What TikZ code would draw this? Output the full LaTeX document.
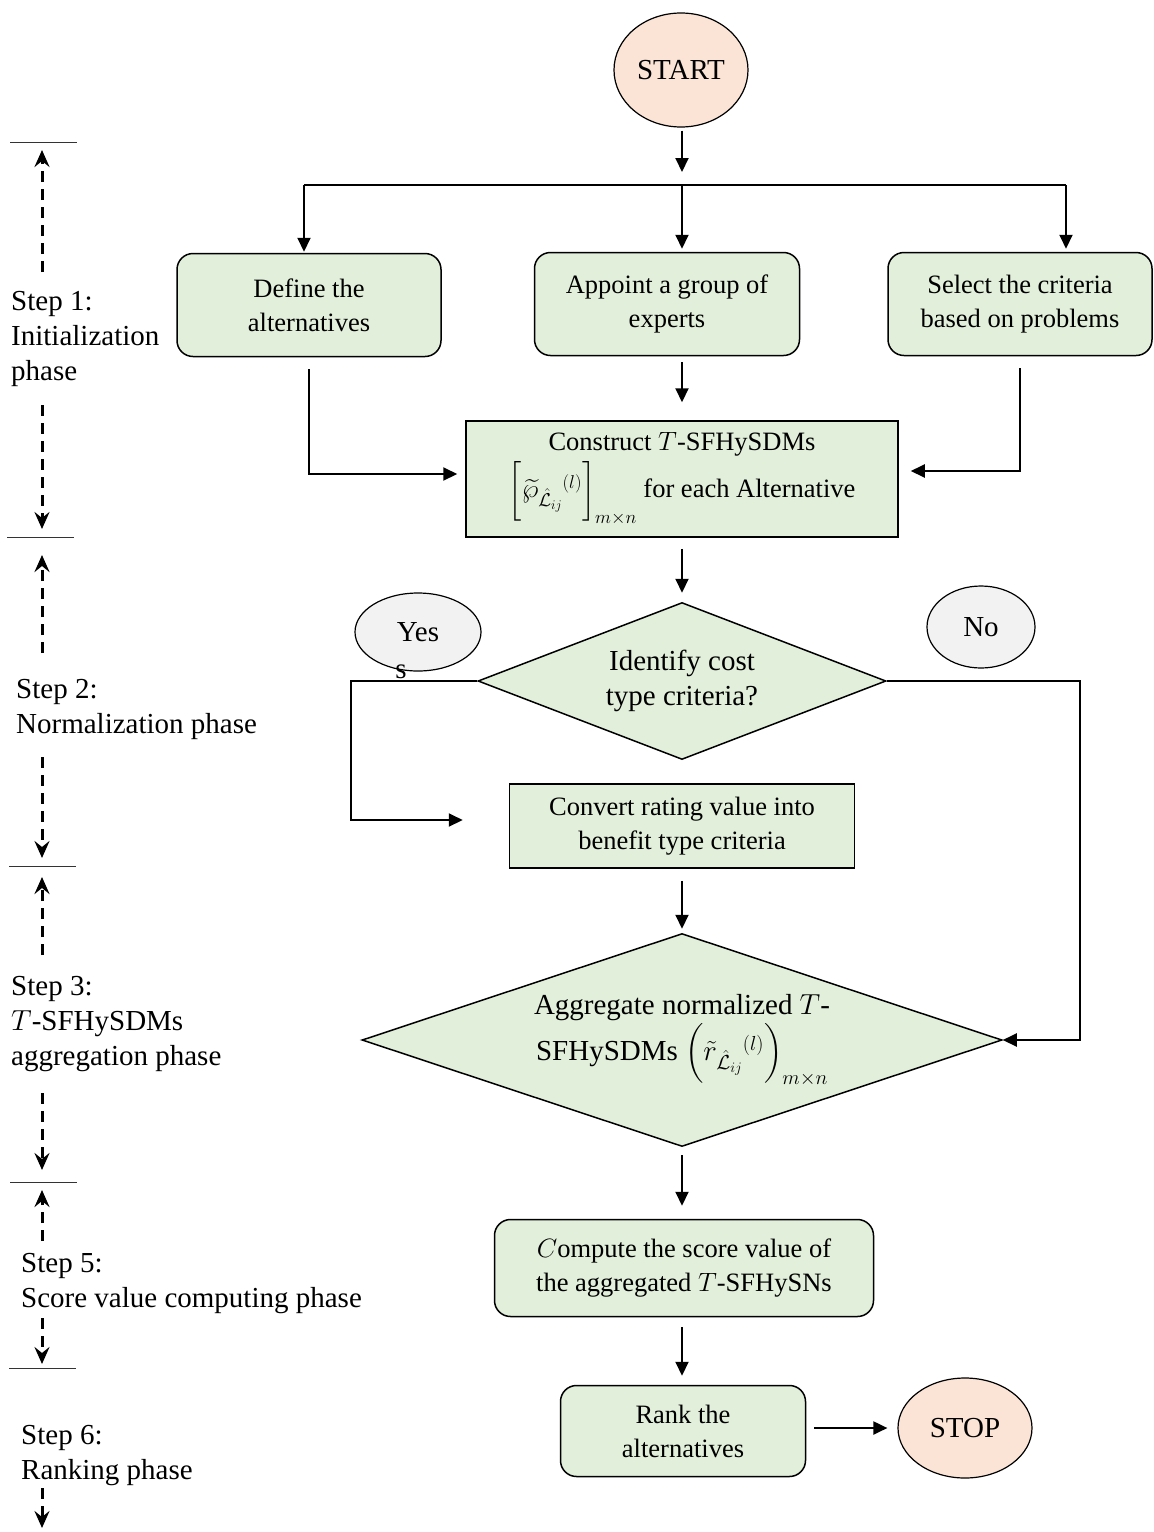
\documentclass[tikz,border=0pt]{standalone}
\usepackage{fix-cm}
\usepackage{amsmath}
\usepackage{fontspec}
\setmainfont{Liberation Serif}
\usetikzlibrary{shapes.geometric,arrows.meta}
\definecolor{boxgreen}{HTML}{E2EFDA}
\definecolor{termpink}{HTML}{FBE4D5}
\definecolor{ovalgrey}{HTML}{F2F2F2}
\tikzset{
  boxfont/.style={font=\fontsize{26.5}{34}\selectfont},
  bigfont/.style={font=\fontsize{29}{35}\selectfont},
  greenbox/.style={draw, line width=1.5pt, fill=boxgreen, align=center, boxfont, inner sep=0pt},
  rgreenbox/.style={greenbox, rounded corners=16pt},
  decision/.style={draw, line width=1.5pt, fill=boxgreen, diamond, align=center, bigfont, inner sep=0pt},
  terminal/.style={draw, line width=1.2pt, fill=termpink, ellipse, bigfont, inner sep=0pt},
  answer/.style={draw, line width=1.2pt, fill=ovalgrey, ellipse, bigfont, inner sep=0pt},
  conn/.style={line width=2pt, -{Triangle[length=14pt,width=13pt]}},
  plainline/.style={line width=2pt},
  phasearrow/.style={line width=3pt, dash pattern=on 11pt off 7pt, -{Stealth[length=17pt,width=15pt,inset=6pt]}},
  phaserule/.style={line width=1pt, black!80},
  phaselabel/.style={align=left, anchor=west, bigfont, inner sep=0pt},
}
\begin{document}
\begin{tikzpicture}[x=1pt,y=-1pt]
\useasboundingbox (0,0) rectangle (1154,1532);

% ---------- main flow nodes ----------
\node[terminal, minimum width=134pt, minimum height=114pt] (start) at (681,70) {START};

\node[rgreenbox, minimum width=264pt, minimum height=103pt] (b1) at (309,305) {Define the\\alternatives};
\node[rgreenbox, minimum width=265pt, minimum height=103pt] (b2) at (667,304) {Appoint a group of\\experts};
\node[rgreenbox, minimum width=264pt, minimum height=103pt] (b3) at (1020,304) {Select the criteria\\based on problems};

\node[greenbox, minimum width=432pt, minimum height=116pt] (cons) at (682,479)
  {Construct $T$-SFHySDMs\\[2pt]
   $\biggl[\widetilde{\wp}_{\hat{\mathcal{L}}_{ij}}{}^{(l)}\biggr]_{m\times n}$ for each Alternative};

\node[decision, minimum width=408pt, minimum height=157pt, aspect=2.6] (d1) at (682,681) {Identify cost\\type criteria?};

\node[answer, minimum width=126pt, minimum height=78pt] (yes) at (418,632) {Yes};
\node[bigfont, inner sep=0pt] (yess) at (401,672) {s};
\node[answer, minimum width=108pt, minimum height=82pt] (no) at (981,627) {No};

\node[greenbox, minimum width=345pt, minimum height=84pt] (conv) at (682,826) {Convert rating value into\\benefit type criteria};

\node[decision, minimum width=640pt, minimum height=213pt, aspect=3] (d2) at (682,1040)
  {Aggregate normalized $T$-\\[2pt]
   SFHySDMs $\Bigl(\tilde{r}_{\hat{\mathcal{L}}_{ij}}{}^{(l)}\Bigr)_{m\times n}$};

\node[rgreenbox, minimum width=379pt, minimum height=97pt] (comp) at (684,1268) {$C$ompute the score value of\\the aggregated $T$-SFHySNs};

\node[rgreenbox, minimum width=245pt, minimum height=91pt] (rank) at (683,1431) {Rank the\\alternatives};

\node[terminal, minimum width=134pt, minimum height=100pt] (stop) at (965,1428) {STOP};

% ---------- connectors ----------
\coordinate (hl) at (304,185);
\coordinate (hm) at (682,185);
\coordinate (hr) at (1066,185);
\draw[conn] ([yshift=-3pt]hm |- start.south) -- ([yshift=13pt]hm);
\draw[plainline] (hl) -- (hr);
\draw[conn] (hl) -- ([yshift=1pt]hl |- b1.north);
\draw[conn] (hm) -- ([yshift=3pt]hm |- b2.north);
\draw[conn] (hr) -- ([yshift=3pt]hr |- b3.north);

\draw[conn] ([yshift=-12pt]b1.south) |- ([xshift=-8pt,yshift=5pt]cons.west);
\draw[conn] ([yshift=-6pt]b2.south -| cons.north) -- ([yshift=18pt]cons.north);
\draw[conn] ([yshift=-12pt]b3.south) |- ([xshift=12pt,yshift=8pt]cons.east);

\draw[conn] ([yshift=-11pt]cons.south) -- ([yshift=9pt]d1.north);

\coordinate (yescorner) at (351,681);
\draw[conn] (d1.west) -- (yescorner) |- ([xshift=-46pt,yshift=6pt]conv.west);
\coordinate (nocorner) at (1080,681);
\draw[conn] (d1.east) -- (nocorner) |- (d2.east);

\draw[conn] ([yshift=-12pt]conv.south) -- ([yshift=4pt]d2.north);
\draw[conn] ([yshift=-8pt]d2.south) -- ([yshift=13pt]comp.north -| d2.south);
\draw[conn] ([yshift=-10pt]comp.south -| d2.south) -- ([yshift=9pt]rank.north -| d2.south);
\draw[conn] ([xshift=8pt]rank.east |- stop.west) -- ([xshift=-10pt]stop.west);

% ---------- phase column ----------
\draw[phaserule] (10,142) -- (77,142);
\draw[phaserule] (7,537) -- (74,537);
\draw[phaserule] (9,866) -- (76,866);
\draw[phaserule] (10,1182) -- (77,1182);
\draw[phaserule] (9,1368) -- (76,1368);

\draw[phasearrow] (42,272) -- (42,150);
\draw[phasearrow] (42,405) -- (42,529);
\draw[phasearrow] (42,653) -- (42,555);
\draw[phasearrow] (42,757) -- (42,858);
\draw[phasearrow] (42,955) -- (42,877);
\draw[phasearrow] (42,1093) -- (42,1170);
\draw[phasearrow] (42,1241) -- (42,1190);
\draw[phasearrow] (42,1318) -- (42,1364);
\draw[phasearrow] (42,1488) -- (42,1528);

\node[phaselabel] (s1) at (11,339) {Step 1:\\Initialization\\phase};
\node[phaselabel] (s2) at (16,709) {Step 2:\\Normalization phase};
\node[phaselabel] (s3) at (11,1024) {Step 3:\\$T$-SFHySDMs\\aggregation phase};
\node[phaselabel] (s5) at (21,1284) {Step 5:\\Score value computing phase};
\node[phaselabel] (s6) at (21,1456) {Step 6:\\Ranking phase};
\end{tikzpicture}
\end{document}
